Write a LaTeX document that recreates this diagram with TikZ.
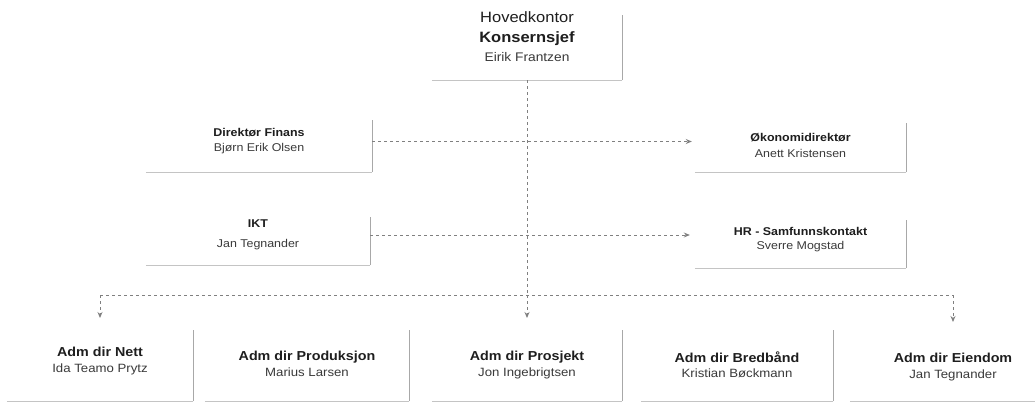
\documentclass[tikz,border=0pt]{standalone}
\usepackage{fontspec}
\setmainfont{Liberation Sans}[FakeStretch=1.1]
\usetikzlibrary{arrows.meta,calc}
\definecolor{ink}{HTML}{1E1E1E}
\definecolor{nameink}{HTML}{3A3A3A}
\definecolor{edge}{HTML}{A8A8A8}
\definecolor{edgelight}{HTML}{C4C4C4}
\definecolor{linkgray}{HTML}{808080}
\newcommand\nm[1]{{\color{nameink}#1}}

\begin{document}
\begin{tikzpicture}[x=1pt,y=-1pt,
  unit/.style={inner sep=0pt, align=center, text=ink},
  lvltwo/.style={unit, font=\fontsize{11.3}{15}\selectfont, minimum width=212pt},
  lvlthree/.style={unit, font=\fontsize{13}{15.5}\selectfont},
  shadowright/.style={draw=edge, line width=1.1pt},
  shadowbottom/.style={draw=edgelight, line width=1pt},
  link/.style={draw=linkgray, line width=0.9pt, dash pattern=on 3pt off 3pt},
  linkarrow/.style={link, -{Stealth[length=6pt,width=5pt]}}]

\useasboundingbox[fill=white] (0,0) rectangle (1035,403);

% head office
\node[unit, font=\fontsize{15}{19.5}\selectfont, minimum width=190pt, minimum height=86pt]
  (top) at (527,37) {Hovedkontor\\ \textbf{Konsernsjef}\\ {\fontsize{12.5}{19}\selectfont\nm{Eirik Frantzen}}};

% staff functions
\node[lvltwo, minimum width=226pt, minimum height=61pt] (finans) at (259,141.5)
  {\textbf{Direktør Finans}\\ \nm{Bjørn Erik Olsen}};
\node[lvltwo, minimum width=224pt, minimum height=60pt] (ikt) at (258,235)
  {\textbf{IKT}\\[5pt] \nm{Jan Tegnander}};
\node[lvltwo, minimum width=211pt, minimum height=54pt] (okonomi) at (800.5,145)
  {\textbf{Økonomidirektør}\\[1pt] \nm{Anett Kristensen}};
\node[lvltwo, minimum width=211pt, minimum height=56pt] (hr) at (800.5,240)
  {\textbf{HR - Samfunnskontakt}\\[-1pt] \nm{Sverre Mogstad}};

% business areas
\node[lvlthree, minimum width=186pt, minimum height=80pt] (nett) at (100,361)
  {\textbf{Adm dir Nett}\\ {\fontsize{12}{15.5}\selectfont\nm{Ida Teamo Prytz}}};
\node[lvlthree, minimum width=204pt, minimum height=74pt] (prod) at (307,364)
  {\textbf{Adm dir Produksjon}\\ {\fontsize{12}{15.5}\selectfont\nm{Marius Larsen}}};
\node[lvlthree, minimum width=190pt, minimum height=72pt] (prosjekt) at (527,365)
  {\textbf{Adm dir Prosjekt}\\ {\fontsize{12}{15.5}\selectfont\nm{Jon Ingebrigtsen}}};
\node[lvlthree, minimum width=192pt, minimum height=72pt] (bredband) at (737,365)
  {\textbf{Adm dir Bredbånd}\\ {\fontsize{12}{15.5}\selectfont\nm{Kristian Bøckmann}}};
\node[lvlthree, minimum width=206pt, minimum height=68pt] (eiendom) at (953,367)
  {\textbf{Adm dir Eiendom}\\ {\fontsize{12}{15.5}\selectfont\nm{Jan Tegnander}}};

% box shadows: bottom and right edges
\draw[shadowbottom] (top.south west) -- (top.south east);
\draw[shadowright] (top.south east) -- ++(0,-65);
\foreach \b/\h in {finans/52, ikt/48, okonomi/49, hr/48} {
  \draw[shadowbottom] (\b.south west) -- (\b.south east);
  \draw[shadowright] (\b.south east) -- ++(0,-\h);
}
\foreach \b in {nett, prod, prosjekt, bredband, eiendom} {
  \draw[shadowbottom] (\b.south west) -- (\b.south east);
  \draw[shadowright] (\b.south east) -- ++(0,-71);
}

% reporting lines
\coordinate (bus) at (527,295);
\draw[link] (top.south) -- (bus);
\draw[link] (nett.north |- bus) -- (eiendom.north |- bus);
\draw[linkarrow] (nett.north |- bus) -- ++(0,23);
\draw[linkarrow] (prosjekt.north |- bus) -- ++(0,23);
\draw[linkarrow] (eiendom.north |- bus) -- ++(0,27);
\draw[linkarrow, shorten >=3pt] (finans.east) -- (finans.east -| okonomi.west);
\draw[linkarrow, shorten >=5pt] (ikt.east) -- (ikt.east -| hr.west);
\end{tikzpicture}
\end{document}
